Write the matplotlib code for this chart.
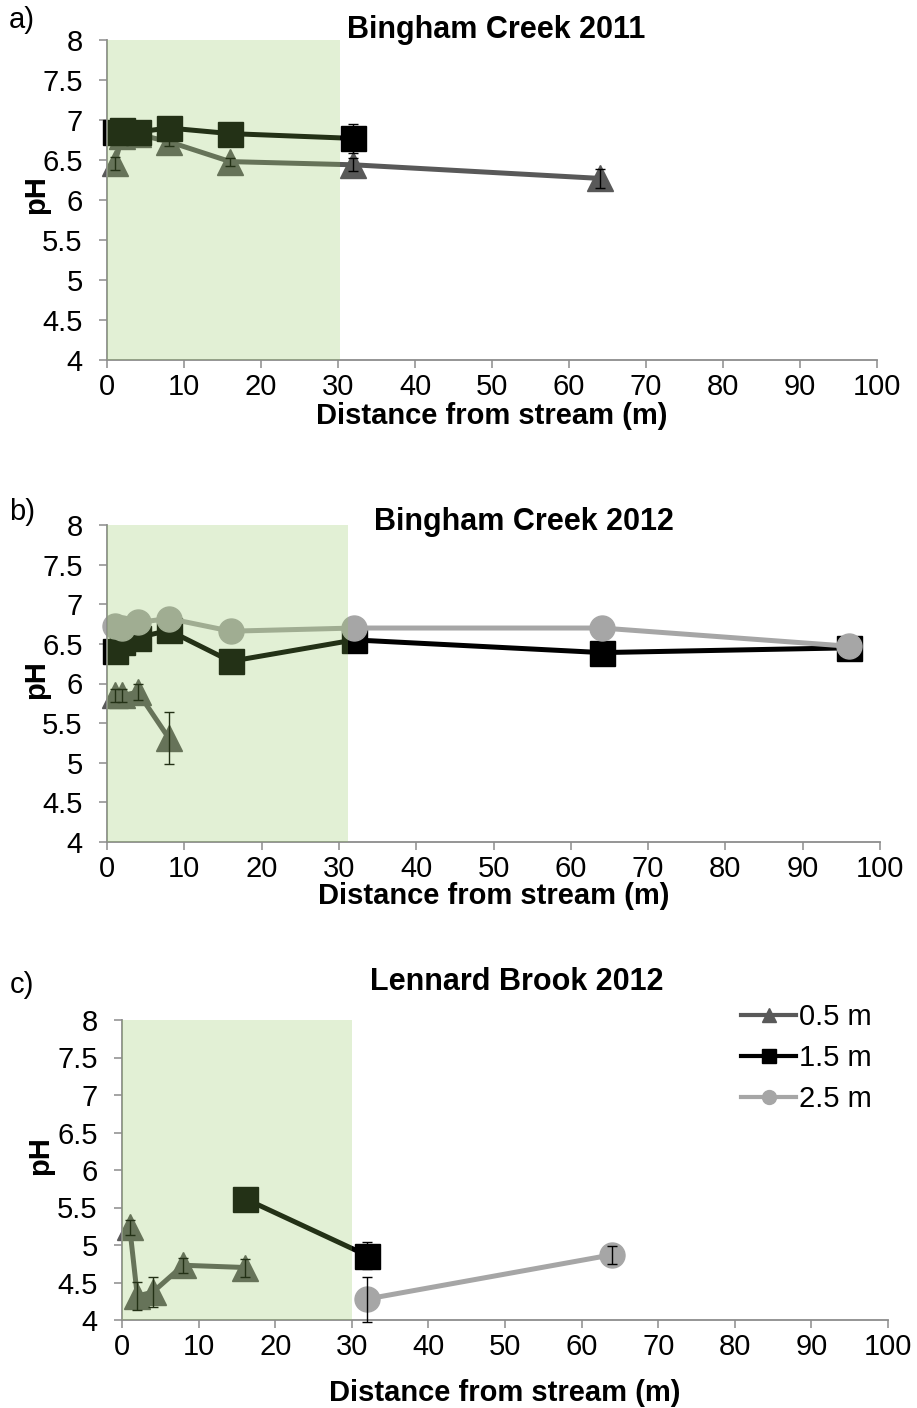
import matplotlib
matplotlib.use('Agg')
import matplotlib.pyplot as plt
from matplotlib.lines import Line2D

plt.rcParams['font.family'] = ['Liberation Sans', 'DejaVu Sans']

# ---- data ----
# a) Bingham Creek 2011
a_x_05 = [1, 2, 4, 8, 16, 32, 64]
a_ph_05 = [6.46, 6.80, 6.82, 6.73, 6.48, 6.44, 6.27]
a_err_05 = [0.08, 0.05, 0.05, 0.05, 0.05, 0.08, 0.12]
a_x_15 = [1, 2, 4, 8, 16, 32]
a_ph_15 = [6.85, 6.87, 6.85, 6.90, 6.83, 6.77]
a_err_15 = [0, 0, 0, 0, 0, 0.18]

# b) Bingham Creek 2012
b_x_05 = [1, 2, 4, 8]
b_ph_05 = [5.85, 5.85, 5.89, 5.31]
b_err_05 = [0.08, 0.08, 0.10, 0.33]
b_x_15 = [1, 2, 4, 8, 16, 32, 64, 96]
b_ph_15 = [6.41, 6.52, 6.58, 6.67, 6.28, 6.55, 6.39, 6.45]
b_err_15 = [0, 0, 0, 0, 0, 0, 0, 0]
b_x_25 = [1, 2, 4, 8, 16, 32, 64, 96]
b_ph_25 = [6.73, 6.70, 6.77, 6.82, 6.66, 6.70, 6.70, 6.47]
b_err_25 = [0, 0, 0, 0, 0, 0, 0, 0]

# c) Lennard Brook 2012
c_x_05 = [1, 2, 4, 8, 16]
c_ph_05 = [5.24, 4.32, 4.37, 4.73, 4.70]
c_err_05 = [0.10, 0.19, 0.20, 0.10, 0.12]
c_x_15 = [16, 32]
c_ph_15 = [5.62, 4.86]
c_err_15 = [0, 0.18]
c_x_25 = [32, 64]
c_ph_25 = [4.28, 4.87]
c_err_25 = [0.30, 0.12]

titles = ['Bingham Creek 2011', 'Bingham Creek 2012', 'Lennard Brook 2012']
letters = ['a)', 'b)', 'c)']
labels = ['0.5 m', '1.5 m', '2.5 m']
shade_end = [30.3, 31.2, 30.0]

colors = ['#595959', '#000000', '#A6A6A6']
markers = ['^', 's', 'o']
msizes = [19, 18, 18]
axis_gray = '#8c8c8c'

W, H = 917, 1408
fig = plt.figure(figsize=(W / 100, H / 100), dpi=100)

# axes boxes in pixels: left, right, top, bottom
boxes = [(107, 877, 40, 360), (107, 880, 525, 842), (122, 888, 1020, 1320)]
title_pos = [(496, 30), (524, 522), (517, 982)]
letter_pos = [(22, 20), (22, 512), (22, 985)]
xlabel_y = [416, 896, 1393]
ylabel_pos = [(36, 195), (36, 680), (40, 1156)]

panels = [
    [(a_x_05, a_ph_05, a_err_05, 0), (a_x_15, a_ph_15, a_err_15, 1)],
    [(b_x_05, b_ph_05, b_err_05, 0), (b_x_15, b_ph_15, b_err_15, 1), (b_x_25, b_ph_25, b_err_25, 2)],
    [(c_x_05, c_ph_05, c_err_05, 0), (c_x_15, c_ph_15, c_err_15, 1), (c_x_25, c_ph_25, c_err_25, 2)],
]

for i, (l, r, t, b) in enumerate(boxes):
    ax = fig.add_axes([l / W, 1 - b / H, (r - l) / W, (b - t) / H])
    for xs, ys, es, k in panels[i]:
        ax.plot(xs, ys, color=colors[k], lw=3.6, marker=markers[k], ms=msizes[k],
                mec=colors[k], zorder=2, clip_on=False)
        # only points that have a visible error bar
        ex = [x for x, e in zip(xs, es) if e > 0]
        ey = [y for y, e in zip(ys, es) if e > 0]
        ee = [e for e in es if e > 0]
        if ex:
            ax.errorbar(ex, ey, yerr=ee, fmt='none', ecolor='black', elinewidth=1,
                        capsize=3.5, capthick=1, zorder=3, clip_on=False)
    ax.axvspan(0, shade_end[i], ymin=0, ymax=1, color='#8FC45A', alpha=0.25,
               lw=0, zorder=10)
    ax.set_xlim(0, 100)
    ax.set_ylim(4, 8)
    ax.set_xticks(range(0, 101, 10))
    ax.set_yticks([4, 4.5, 5, 5.5, 6, 6.5, 7, 7.5, 8])
    ax.set_yticklabels(['4', '4.5', '5', '5.5', '6', '6.5', '7', '7.5', '8'])
    for s in ['top', 'right']:
        ax.spines[s].set_visible(False)
    for s in ['left', 'bottom']:
        ax.spines[s].set_color(axis_gray)
        ax.spines[s].set_linewidth(1.3)
    ax.tick_params(axis='y', direction='out', length=5.5, width=1.1, color=axis_gray,
                   labelsize=21, pad=12)
    ax.tick_params(axis='x', direction='out', length=5.5, width=1.1, color=axis_gray,
                   labelsize=21, pad=4)
    ax.patch.set_alpha(0)

    fig.text(title_pos[i][0] / W, 1 - title_pos[i][1] / H, titles[i], fontsize=22,
             fontweight='bold', ha='center', va='center')
    fig.text(letter_pos[i][0] / W, 1 - letter_pos[i][1] / H, letters[i], fontsize=21,
             ha='center', va='center')
    fig.text((l + r) / 2 / W, 1 - xlabel_y[i] / H, 'Distance from stream (m)', fontsize=21,
             fontweight='bold', ha='center', va='center')
    fig.text(ylabel_pos[i][0] / W, 1 - ylabel_pos[i][1] / H, 'pH', fontsize=21,
             fontweight='bold', ha='center', va='center', rotation=90)

    if i == 2:
        handles = [Line2D([], [], color=colors[k], lw=3, marker=markers[k], ms=10, mec=colors[k])
                   for k in range(3)]
        ax.legend(handles, labels, loc='upper left', bbox_to_anchor=(741 / W, 1 - 1003 / H),
                  bbox_transform=fig.transFigure, frameon=False, fontsize=21,
                  handlelength=1.9, handletextpad=0.1, labelspacing=0.45, borderpad=0,
                  borderaxespad=0)

fig.savefig('out.png', dpi=100)
